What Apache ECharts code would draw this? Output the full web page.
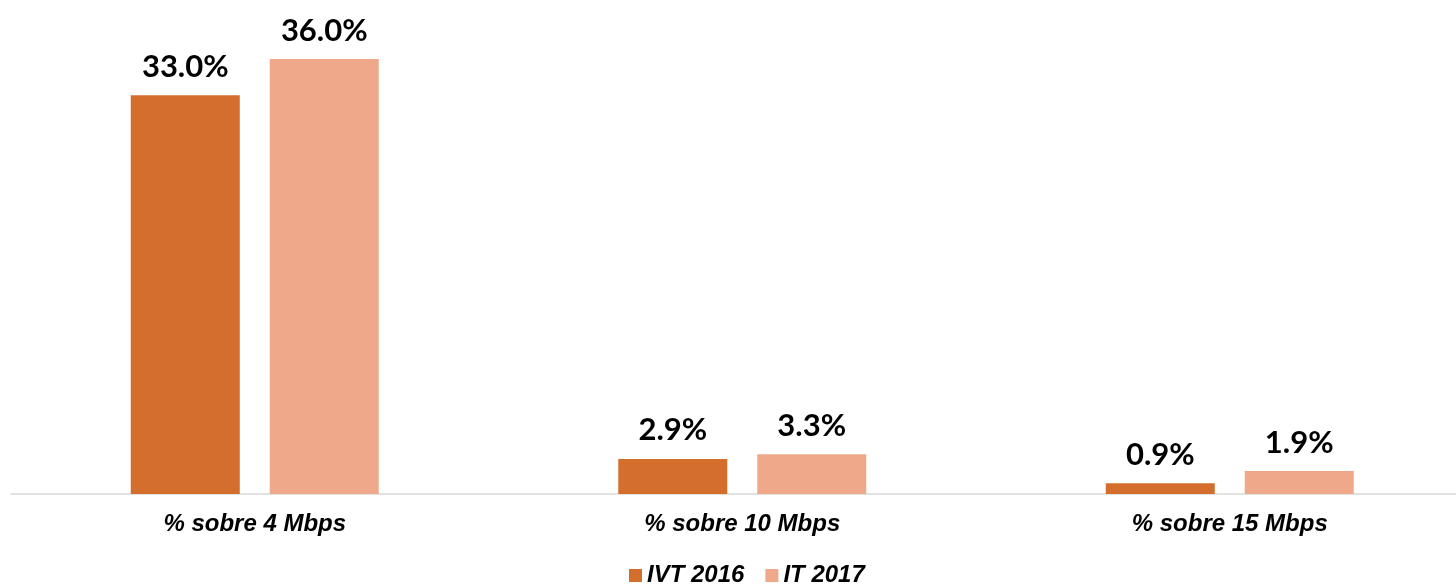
<!DOCTYPE html>
<html><head><meta charset="utf-8">
<script src="https://cdn.jsdelivr.net/npm/echarts@6/dist/echarts.min.js"></script>
<style>html,body{margin:0;padding:0;background:#fff}#c{width:1456px;height:586px}</style>
</head><body><div id="c"></div>
<script>
const categories = ['% sobre 4 Mbps', '% sobre 10 Mbps', '% sobre 15 Mbps'];
const seriesNames = ['IVT 2016', 'IT 2017'];
const ivt2016 = [33.0, 2.9, 0.9];
const it2017 = [36.0, 3.3, 1.9];
const colors = ['#D36E2C', '#F0A88A'];

const chart = echarts.init(document.getElementById('c'));
const labelCfg = {
  show: true, position: 'top', distance: 13,
  formatter: p => p.value.toFixed(1) + '%',
  fontFamily: 'Lato', fontWeight: 'bold', fontSize: 31, color: '#000'
};
chart.setOption({
  animation: false,
  grid: { left: 11, width: 1462.5, top: 59, bottom: 92, containLabel: false, outerBoundsMode: 'none' },
  legend: {
    top: 563, left: 629, padding: 0, itemWidth: 13, itemHeight: 13, itemGap: 21,
    icon: 'rect',
    textStyle: { fontFamily: 'Liberation Sans', fontStyle: 'italic', fontWeight: 'bold', fontSize: 24, lineHeight: 25, color: '#000' },
    data: seriesNames
  },
  xAxis: {
    type: 'category', data: categories,
    axisLine: { lineStyle: { color: '#D9D9D9', width: 1.5 } },
    axisTick: { show: false },
    axisLabel: { margin: 18, fontFamily: 'Liberation Sans', fontStyle: 'italic', fontWeight: 'bold', fontSize: 24, color: '#000' }
  },
  yAxis: { type: 'value', min: 0, max: 36, show: false, splitLine: { show: false } },
  series: [
    { name: seriesNames[0], type: 'bar', data: ivt2016, barWidth: 109, barGap: '27.5%', itemStyle: { color: colors[0] }, label: labelCfg },
    { name: seriesNames[1], type: 'bar', data: it2017, barWidth: 109, barGap: '27.5%', itemStyle: { color: colors[1] }, label: labelCfg }
  ]
});
</script></body></html>
